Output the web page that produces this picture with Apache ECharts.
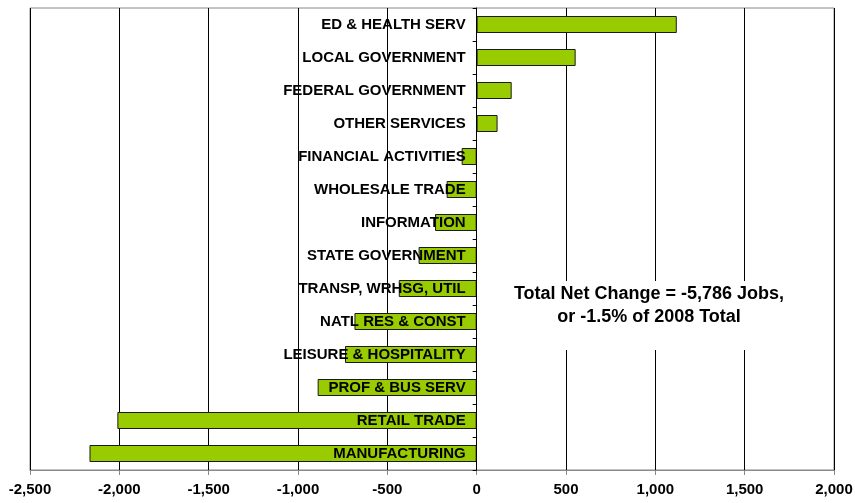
<!DOCTYPE html>
<html>
<head>
<meta charset="utf-8">
<script src="https://cdn.jsdelivr.net/npm/echarts@6/dist/echarts.min.js"></script>
<style>
  html, body { margin: 0; padding: 0; background: #fff; }
  #chart { width: 855px; height: 503px; }
</style>
</head>
<body>
<div id="chart"></div>
<script>
// categories, top to bottom
const categories = [
  'ED & HEALTH SERV', 'LOCAL GOVERNMENT', 'FEDERAL GOVERNMENT', 'OTHER SERVICES',
  'FINANCIAL ACTIVITIES', 'WHOLESALE TRADE', 'INFORMATION', 'STATE GOVERNMENT',
  'TRANSP, WRHSG, UTIL', 'NATL RES & CONST', 'LEISURE & HOSPITALITY',
  'PROF & BUS SERV', 'RETAIL TRADE', 'MANUFACTURING'
];
// net job change
const jobChange = [1120, 554, 196, 117, -84, -168, -233, -325, -436, -684, -737, -890, -2011, -2167];
const noteLines = ['Total Net Change = -5,786 Jobs,', 'or -1.5% of 2008 Total'];

const fontFam = '"Liberation Sans", Arial, sans-serif';
const chart = echarts.init(document.getElementById('chart'));

chart.setOption({
  animation: false,
  grid: {
    left: 30, right: 21, top: 8, bottom: 33,
    outerBoundsMode: 'none',
    containLabel: false,
    show: true, borderColor: '#888', borderWidth: 1
  },
  xAxis: {
    type: 'value',
    min: -2500, max: 2000, interval: 500,
    axisLine: { show: true, lineStyle: { color: '#888', width: 1 } },
    axisTick: { show: true, length: 5, lineStyle: { color: '#888' } },
    axisLabel: {
      color: '#000', fontWeight: 'bold', fontSize: 15, fontFamily: fontFam, margin: 12,
      formatter: v => v.toLocaleString('en-US')
    },
    splitLine: { show: true, lineStyle: { color: '#000', width: 1 } }
  },
  yAxis: {
    type: 'category',
    data: categories,
    inverse: true,
    z: 5,
    axisLine: { show: true, onZero: true, lineStyle: { color: '#000', width: 1 } },
    axisTick: { show: true, length: 4, lineStyle: { color: '#000' } },
    axisLabel: { show: false },
    splitLine: { show: false }
  },
  series: [{
    type: 'bar',
    data: jobChange,
    barWidth: 17,
    itemStyle: { color: '#99CC00', borderColor: '#1a1a1a', borderWidth: 1 }
  }, {
    // category names sit just left of the zero line, over the bars
    type: 'scatter',
    data: categories.map(() => 0),
    symbolSize: 0,
    z: 10,
    silent: true,
    itemStyle: { opacity: 1 },
    label: {
      show: true,
      position: 'left',
      distance: 11,
      formatter: p => categories[p.dataIndex],
      color: '#000', opacity: 1, fontWeight: 'bold', fontSize: 15, fontFamily: fontFam
    }
  }],
  graphic: [{
    // white box behind the note hides the gridlines
    type: 'rect',
    z: 15,
    shape: { x: 500, y: 281, width: 298, height: 69 },
    style: { fill: '#fff' }
  }, {
    type: 'text',
    x: 649, y: 283,
    z: 20,
    style: {
      text: noteLines.join('\n'),
      fill: '#000',
      font: 'bold 18px ' + fontFam,
      align: 'center',
      lineHeight: 23
    }
  }]
});
</script>
</body>
</html>
